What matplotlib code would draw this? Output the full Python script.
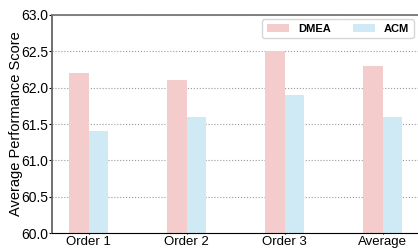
import numpy as np
import matplotlib.pyplot as plt

plt.rcParams['font.family'] = ['Liberation Sans', 'DejaVu Sans']

# data
groups = ["Order 1", "Order 2", "Order 3", "Average"]
dmea = [62.2, 62.1, 62.5, 62.3]
acm = [61.4, 61.6, 61.9, 61.6]

x = np.arange(len(groups))
w = 0.2

fig, ax = plt.subplots(figsize=(4.18, 2.48), dpi=100)
fig.subplots_adjust(left=0.124, right=1.0, top=0.94, bottom=0.06)

ax.bar(x - w / 2, dmea, w, color='#f5cccc', label='DMEA', zorder=2)
ax.bar(x + w / 2, acm, w, color='#cfe9f5', label='ACM', zorder=2)

ax.set_xticks(x)
ax.set_xticklabels(groups, fontsize=9.5)
ax.set_ylim(60, 63)
ax.set_yticks(np.arange(60, 63.01, 0.5))
ax.tick_params(axis='y', labelsize=10, length=2, pad=0.5)
ax.tick_params(axis='x', length=1, pad=1)
ax.set_xlim(-0.378, 3.36)
ax.set_ylabel("Average Performance Score", fontsize=10.5, labelpad=-1)

ax.yaxis.grid(True, linestyle=':', color='#999999', linewidth=0.8, zorder=0)
ax.set_axisbelow(True)

ax.spines['top'].set_color('#777777')
ax.spines['top'].set_linewidth(1.3)
ax.spines['left'].set_color('#666666')
ax.spines['left'].set_linewidth(1.3)
ax.spines['right'].set_visible(False)
ax.spines['bottom'].set_color('black')

leg = ax.legend(loc='upper right', ncol=2, prop={'weight': 'bold', 'size': 8},
                frameon=True, fancybox=True, handlelength=2.0, handletextpad=0.8,
                columnspacing=2.0, borderaxespad=0.4)

fig.savefig("out.png", dpi=100)
